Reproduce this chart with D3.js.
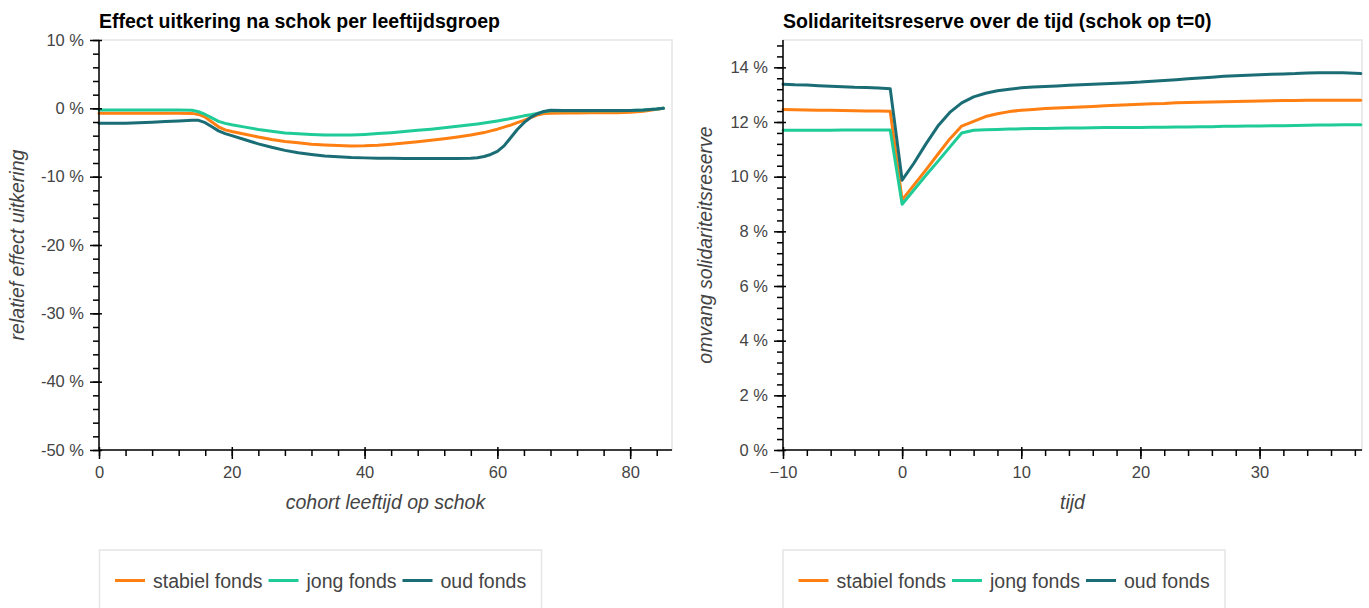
<!DOCTYPE html>
<html>
<head>
<meta charset="utf-8">
<script src="https://cdn.jsdelivr.net/npm/d3@7/dist/d3.min.js"></script>
<style>
  html, body { margin: 0; padding: 0; background: #fff; }
  svg { display: block; font-family: "Liberation Sans", Arial, Helvetica, sans-serif; }
</style>
</head>
<body>
<svg id="chart" width="1369" height="608"></svg>
<script>
// ---- series metadata ----
const seriesNames = ["stabiel fonds", "jong fonds", "oud fonds"];
const seriesColors = ["#ff7f12", "#1fcc98", "#1b6d75"];

// ---- left panel: effect on benefit per cohort age (in %) ----
const ages = [0, 2, 4, 6, 8, 10, 12, 14, 15, 16, 17, 18, 19, 20, 22, 24, 26, 28, 30, 32, 34, 36, 38, 40,
  42, 44, 46, 48, 50, 52, 54, 56, 57, 58, 59, 60, 61, 62, 63, 64, 65, 66, 67, 68, 70, 72, 74, 76, 78, 80, 82, 84, 85];
const effectStabiel = [-0.72, -0.72, -0.72, -0.72, -0.72, -0.72, -0.72, -0.74, -0.9, -1.3, -2.0, -2.7, -3.15, -3.4,
  -3.8, -4.2, -4.55, -4.85, -5.05, -5.25, -5.37, -5.45, -5.5, -5.48, -5.4, -5.25, -5.08, -4.88, -4.68, -4.45, -4.18,
  -3.9, -3.73, -3.55, -3.3, -3.05, -2.75, -2.45, -2.1, -1.75, -1.35, -1.0, -0.75, -0.72, -0.7, -0.68, -0.66, -0.65,
  -0.63, -0.58, -0.42, -0.15, 0];
const effectJong = [-0.25, -0.25, -0.25, -0.25, -0.25, -0.25, -0.25, -0.27, -0.5, -0.9, -1.4, -1.9, -2.2, -2.4,
  -2.75, -3.1, -3.35, -3.6, -3.72, -3.82, -3.9, -3.92, -3.9, -3.82, -3.7, -3.56, -3.4, -3.22, -3.05, -2.85, -2.62,
  -2.4, -2.28, -2.15, -2.0, -1.85, -1.68, -1.5, -1.3, -1.1, -0.95, -0.75, -0.5, -0.35, -0.35, -0.35, -0.35, -0.35,
  -0.35, -0.33, -0.25, -0.1, 0];
const effectOud = [-2.2, -2.2, -2.17, -2.1, -2.02, -1.94, -1.85, -1.76, -1.75, -2.1, -2.7, -3.3, -3.7, -4.0,
  -4.6, -5.2, -5.7, -6.15, -6.5, -6.75, -6.98, -7.1, -7.2, -7.25, -7.3, -7.32, -7.33, -7.33, -7.33, -7.33, -7.33,
  -7.3, -7.22, -7.05, -6.75, -6.3, -5.5, -4.3, -3.1, -2.1, -1.35, -0.8, -0.45, -0.28, -0.3, -0.31, -0.32, -0.32,
  -0.32, -0.31, -0.25, -0.1, 0];

// ---- right panel: solidarity reserve over time (in %) ----
const tijd = [-10, -9, -8, -7, -6, -5, -4, -3, -2, -1, 0, 1, 2, 3, 4, 5, 6, 7, 8, 9, 10, 11, 12, 13, 14, 15, 16,
  17, 18, 19, 20, 21, 22, 23, 24, 25, 26, 27, 28, 29, 30, 31, 32, 33, 34, 35, 36, 37, 38, 38.5];
const reserveStabiel = [12.46, 12.45, 12.44, 12.43, 12.43, 12.42, 12.41, 12.4, 12.4, 12.39, 9.15, 9.7, 10.25,
  10.82, 11.38, 11.85, 12.02, 12.2, 12.3, 12.38, 12.43, 12.46, 12.49, 12.51, 12.53, 12.55, 12.57, 12.59, 12.61,
  12.63, 12.65, 12.67, 12.68, 12.7, 12.71, 12.72, 12.73, 12.74, 12.75, 12.76, 12.77, 12.78, 12.79, 12.79, 12.8,
  12.8, 12.8, 12.8, 12.8, 12.8];
const reserveJong = [11.7, 11.7, 11.7, 11.7, 11.7, 11.71, 11.71, 11.71, 11.71, 11.71, 8.99, 9.52, 10.05, 10.56,
  11.08, 11.6, 11.7, 11.72, 11.73, 11.74, 11.75, 11.76, 11.76, 11.77, 11.78, 11.78, 11.79, 11.8, 11.8, 11.8, 11.8,
  11.81, 11.81, 11.82, 11.82, 11.83, 11.83, 11.84, 11.84, 11.85, 11.85, 11.86, 11.86, 11.87, 11.88, 11.89, 11.89,
  11.9, 11.9, 11.9];
const reserveOud = [13.38, 13.36, 13.35, 13.33, 13.31, 13.29, 13.27, 13.26, 13.24, 13.22, 9.87, 10.5, 11.2, 11.85,
  12.35, 12.7, 12.92, 13.05, 13.14, 13.2, 13.25, 13.28, 13.3, 13.32, 13.34, 13.36, 13.38, 13.4, 13.42, 13.44,
  13.46, 13.49, 13.52, 13.55, 13.58, 13.61, 13.64, 13.67, 13.69, 13.71, 13.73, 13.75, 13.76, 13.77, 13.79, 13.8,
  13.8, 13.8, 13.78, 13.77];

// ---- tick values ----
const leftXTicks = [0, 20, 40, 60, 80];
const leftYTicks = [10, 0, -10, -20, -30, -40, -50];
const rightXTicks = [-10, 0, 10, 20, 30];
const rightYTicks = [0, 2, 4, 6, 8, 10, 12, 14];

const svg = d3.select("#chart");
const LABEL_COLOR = "#444444";

function panel(cfg) {
  const {x0, x1, y0, y1, xDomain, yDomain, xTicks, yTicks, xMinor, yMinor,
         xFormat, yFormat, title, xLabel, yLabel, yLabelX, xs, ys} = cfg;
  const x = d3.scaleLinear().domain(xDomain).range([x0, x1]);
  const y = d3.scaleLinear().domain(yDomain).range([y1, y0]);
  const g = svg.append("g");

  // plot outline
  g.append("rect").attr("x", x0).attr("y", y0).attr("width", x1 - x0).attr("height", y1 - y0)
    .attr("fill", "none").attr("stroke", "#e5e5e5").attr("stroke-width", 1.5);

  // series lines
  const line = d3.line().x(d => x(d[0])).y(d => y(d[1]));
  ys.forEach((vals, i) => {
    g.append("path").datum(xs.map((v, k) => [v, vals[k]]))
      .attr("d", line).attr("fill", "none").attr("stroke", seriesColors[i])
      .attr("stroke-width", 3).attr("stroke-linejoin", "round").attr("stroke-linecap", "round");
  });

  // minor ticks
  const minorX = g.append("g").attr("transform", `translate(0,${y1})`)
    .call(d3.axisBottom(x).tickValues(xMinor).tickSize(6).tickSizeOuter(0).tickFormat(""));
  minorX.select(".domain").remove();
  minorX.selectAll("line").attr("stroke", "#000").attr("stroke-width", 1.5);
  const minorY = g.append("g").attr("transform", `translate(${x0},0)`)
    .call(d3.axisLeft(y).tickValues(yMinor).tickSize(6).tickSizeOuter(0).tickFormat(""));
  minorY.select(".domain").remove();
  minorY.selectAll("line").attr("stroke", "#000").attr("stroke-width", 1.5);

  // major axes
  const ax = g.append("g").attr("transform", `translate(0,${y1})`)
    .call(d3.axisBottom(x).tickValues(xTicks).tickSize(9).tickSizeOuter(0).tickPadding(7.5).tickFormat(xFormat));
  ax.select(".domain").attr("stroke", "#000").attr("stroke-width", 1.5).attr("d", `M${x0},0H${x1}`);
  ax.selectAll(".tick line").attr("stroke", "#000").attr("stroke-width", 1.5).attr("y1", -3);
  ax.selectAll(".tick text").attr("fill", LABEL_COLOR).attr("font-size", "16.5px")
    .attr("font-family", "Liberation Sans, Arial, sans-serif");

  const ay = g.append("g").attr("transform", `translate(${x0},0)`)
    .call(d3.axisLeft(y).tickValues(yTicks).tickSize(9).tickSizeOuter(0).tickPadding(6).tickFormat(yFormat));
  ay.select(".domain").attr("stroke", "#000").attr("stroke-width", 1.5).attr("d", `M0,${y0}V${y1}`);
  ay.selectAll(".tick line").attr("stroke", "#000").attr("stroke-width", 1.5).attr("x1", 3);
  ay.selectAll(".tick text").attr("fill", LABEL_COLOR).attr("font-size", "16.5px")
    .attr("font-family", "Liberation Sans, Arial, sans-serif");

  // title
  g.append("text").attr("x", x0).attr("y", 28).text(title)
    .attr("font-size", "19.5px").attr("font-weight", "bold").attr("fill", "#000");

  // axis labels
  g.append("text").attr("x", (x0 + x1) / 2).attr("y", 509).attr("text-anchor", "middle")
    .attr("font-size", "19.5px").attr("font-style", "italic").attr("fill", LABEL_COLOR).text(xLabel);
  g.append("text").attr("transform", `translate(${yLabelX},${(y0 + y1) / 2}) rotate(-90)`)
    .attr("text-anchor", "middle").attr("font-size", "19.5px").attr("font-style", "italic")
    .attr("fill", LABEL_COLOR).text(yLabel);

  // legend
  const lg = g.append("g");
  const boxX = cfg.legendX, boxY = 550, boxW = 442;
  lg.append("rect").attr("x", boxX).attr("y", boxY).attr("width", boxW).attr("height", 80)
    .attr("fill", "#fff").attr("stroke", "#e5e5e5").attr("stroke-width", 1.5);
  let cx = boxX + 15.5;
  const cy = 580.5;
  seriesNames.forEach((name, i) => {
    lg.append("line").attr("x1", cx).attr("x2", cx + 30).attr("y1", cy).attr("y2", cy)
      .attr("stroke", seriesColors[i]).attr("stroke-width", 3);
    const t = lg.append("text").attr("x", cx + 38).attr("y", cy + 7)
      .attr("font-size", "19.5px").attr("fill", LABEL_COLOR).text(name);
    cx += 38 + t.node().getComputedTextLength() + 6;
  });
}

const range = (a, b, s) => d3.range(a, b + s / 2, s);

panel({
  x0: 99, x1: 672, y0: 40, y1: 450,
  xDomain: [0, 86.3], yDomain: [-50, 10],
  xTicks: leftXTicks, yTicks: leftYTicks,
  xMinor: range(0, 84, 4), yMinor: range(-50, 10, 2),
  xFormat: d => String(d), yFormat: d => `${d} %`,
  title: "Effect uitkering na schok per leeftijdsgroep",
  xLabel: "cohort leeftijd op schok", yLabel: "relatief effect uitkering", yLabelX: 24,
  xs: ages, ys: [effectStabiel, effectJong, effectOud], legendX: 99.5
});

panel({
  x0: 783, x1: 1362, y0: 40, y1: 450,
  xDomain: [-10, 38.6], yDomain: [0, 15],
  xTicks: rightXTicks, yTicks: rightYTicks,
  xMinor: range(-10, 38, 2), yMinor: range(0, 14.8, 0.4),
  xFormat: d3.format("d"), yFormat: d => `${d} %`,
  title: "Solidariteitsreserve over de tijd (schok op t=0)",
  xLabel: "tijd", yLabel: "omvang solidariteitsreserve", yLabelX: 712,
  xs: tijd, ys: [reserveStabiel, reserveJong, reserveOud], legendX: 783
});
</script>
</body>
</html>
